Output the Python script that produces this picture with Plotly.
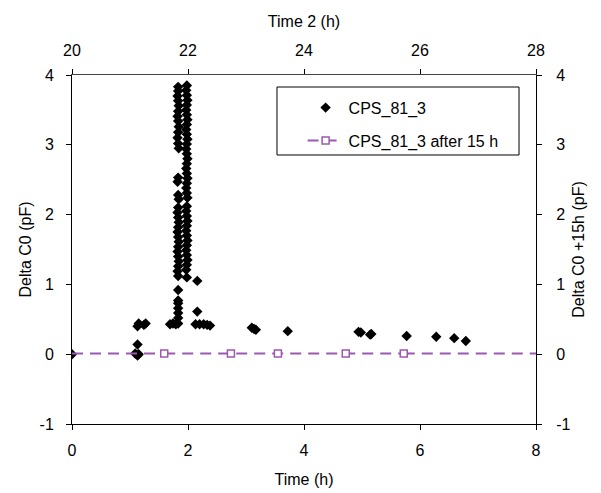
import plotly.graph_objects as go

# ---- data ----
time_h = [0.00,
          1.09, 1.13, 1.15, 1.13, 1.13, 1.15, 1.24, 1.27,
          1.69, 1.74, 1.79,
          1.83, 1.83, 1.82, 1.83, 1.84, 1.83, 1.82, 1.83, 1.84, 1.83, 1.82, 1.83, 1.84,
          1.83, 1.82, 1.83, 1.84, 1.83, 1.82, 1.83, 1.84, 1.83, 1.82, 1.83, 1.84, 1.83,
          1.82, 1.83, 1.84, 1.83, 1.82, 1.83, 1.83, 1.83, 1.83, 1.83, 1.83, 1.83, 1.83,
          1.98, 1.97, 1.98, 1.99, 1.98, 1.97, 1.98, 1.99, 1.98, 1.97, 1.98, 1.99, 1.98,
          1.97, 1.98, 1.99, 1.98, 1.97, 1.98, 1.99, 1.98, 1.97, 1.98, 1.99, 1.98, 1.97,
          1.98, 1.99, 1.98, 1.97, 1.98, 1.99, 1.98, 1.97, 1.98, 1.99, 1.98, 1.97, 1.98,
          2.16, 2.16,
          2.13, 2.20, 2.27, 2.33, 2.38,
          3.10, 3.14, 3.17,
          3.72,
          4.94, 4.98, 5.14, 5.16,
          5.77, 6.28, 6.59, 6.79]
delta_c0 = [0.00,
            0.01, -0.02, 0.00, 0.14, 0.40, 0.44, 0.42, 0.44,
            0.43, 0.44, 0.43,
            3.83, 3.77, 3.70, 3.63, 3.56, 3.48, 3.41, 3.34, 3.26, 3.18, 3.10, 3.02, 2.95,
            2.53, 2.47, 2.28, 2.22, 2.10, 2.03, 1.96, 1.89, 1.82, 1.75, 1.68, 1.61, 1.54,
            1.47, 1.40, 1.33, 1.26, 1.19, 1.12, 0.92, 0.77, 0.73, 0.66, 0.59, 0.52, 0.44,
            3.85, 3.78, 3.71, 3.64, 3.57, 3.50, 3.43, 3.36, 3.29, 3.22, 3.15, 3.08, 3.01,
            2.94, 2.87, 2.80, 2.73, 2.66, 2.59, 2.52, 2.45, 2.38, 2.31, 2.24, 2.12, 2.05,
            1.98, 1.91, 1.84, 1.77, 1.70, 1.63, 1.56, 1.49, 1.42, 1.35, 1.28, 1.21, 1.10,
            1.05, 0.61,
            0.43, 0.43, 0.43, 0.42, 0.41,
            0.38, 0.36, 0.35,
            0.33,
            0.32, 0.31, 0.28, 0.29,
            0.26, 0.25, 0.23, 0.19]

time2_after = [21.59, 22.74, 23.55, 24.72, 25.72]
delta_after = [0.01, 0.01, 0.01, 0.01, 0.01]
time2_line_ends = [20.0, 21.59, None, 25.72, 28.0]
delta_line_ends = [0.01, 0.01, None, 0.01, 0.01]

x_ticks = [0, 2, 4, 6, 8]
x2_ticks = [20, 22, 24, 26, 28]
y_ticks = [-1, 0, 1, 2, 3, 4]
y_tick_labels = ["-1", "0", "1", "2", "3", "4"]

PURPLE = "#9B59B0"
FONT = "Liberation Sans, Arial, sans-serif"
fsize = 16

fig = go.Figure()
fig.add_trace(go.Scatter(
    x=time_h, y=delta_c0, mode="markers", name="CPS_81_3",
    marker=dict(symbol="diamond", size=8, color="black"),
    legendgroup="a", xaxis="x", yaxis="y"))
fig.add_trace(go.Scatter(
    x=time2_line_ends, y=delta_line_ends, mode="lines", showlegend=False,
    line=dict(color=PURPLE, width=2, dash="11px,7px"),
    xaxis="x2", yaxis="y2", hoverinfo="skip"))
fig.add_trace(go.Scatter(
    x=time2_after, y=delta_after, mode="lines+markers", name="CPS_81_3 after 15 h",
    line=dict(color=PURPLE, width=2, dash="11px,7px"),
    marker=dict(symbol="square", size=7, color="white", line=dict(color=PURPLE, width=1.5)),
    legendgroup="b", xaxis="x2", yaxis="y2"))

axis_common = dict(showgrid=False, zeroline=False, showline=True, linewidth=1,
                   automargin=False,
                   tickfont=dict(family=FONT, size=fsize, color="black"),
                   title_font=dict(family=FONT, size=fsize, color="black"),
                   ticks="outside", ticklen=5, tickcolor="black", tickwidth=1)

fig.update_layout(
    width=601, height=493,
    margin=dict(l=72, r=65, t=75, b=69),
    paper_bgcolor="white", plot_bgcolor="white",
    font=dict(family=FONT, size=fsize, color="black"),
    xaxis=dict(range=[0, 8], tickvals=x_ticks, linecolor="black",
               title=dict(text="Time (h)", standoff=15), ticklabelstandoff=7,
               anchor="y", **axis_common),
    xaxis2=dict(range=[20, 28], tickvals=x2_ticks, overlaying="x", side="top",
                linecolor="#444444", title=dict(text="Time 2 (h)", standoff=9),
                ticklabelstandoff=7, anchor="y", **axis_common),
    yaxis=dict(range=[-1, 4], tickvals=y_ticks, ticktext=y_tick_labels, linecolor="black",
               title=dict(text="Delta C0 (pF)", standoff=3), ticklabelstandoff=9,
               anchor="x", **axis_common),
    yaxis2=dict(range=[-1, 4], tickvals=y_ticks, ticktext=y_tick_labels, overlaying="y",
                side="right", linecolor="black",
                title=dict(text="Delta C0 +15h (pF)", standoff=3),
                ticklabelstandoff=11, anchor="x", **axis_common),
    xaxis3=dict(range=[20, 28], tickvals=x2_ticks, overlaying="x", side="top",
                showgrid=False, zeroline=False, showline=False, showticklabels=False,
                automargin=False,
                ticks="inside", ticklen=7, tickcolor="#444444", anchor="y"),
    yaxis3=dict(range=[-1, 4], tickvals=y_ticks, overlaying="y", side="right",
                showgrid=False, zeroline=False, showline=False, showticklabels=False,
                automargin=False,
                ticks="inside", ticklen=6, tickcolor="black", anchor="x"),
    legend=dict(x=0.497, y=0.955, xanchor="left", yanchor="top",
                bgcolor="rgba(0,0,0,0)", borderwidth=0, itemwidth=36,
                font=dict(family=FONT, size=fsize, color="black"),
                traceorder="grouped", tracegroupgap=9),
    shapes=[dict(type="rect", xref="paper", yref="paper",
                 x0=0.4418, x1=0.9634, y0=0.7708, y1=0.9656,
                 line=dict(color="black", width=1), fillcolor="rgba(0,0,0,0)")],
    showlegend=True,
)

fig.write_html("out.html")
